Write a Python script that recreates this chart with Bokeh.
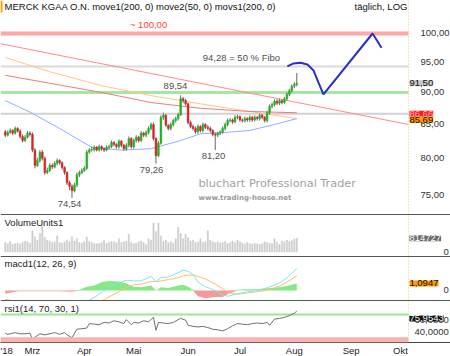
import numpy as np
from bokeh.plotting import figure
from bokeh.layouts import column
from bokeh.models import (Range1d, FixedTicker, CustomJSTickFormatter, Span, Label,
                          BoxAnnotation)
from bokeh.embed import file_html
from bokeh.resources import INLINE

# ---------------- data ----------------
opens = [83.9, 83.4, 83.8, 84.1, 83.7, 84.4, 84.0, 83.2, 82.6, 83.1,
         83.7, 83.5, 81.2, 79.0, 79.7, 80.9, 80.0, 78.0, 78.3, 79.0,
         78.8, 79.3, 79.7, 79.4, 78.7, 78.0, 76.6, 76.1, 75.5, 76.3,
         77.7, 78.0, 78.3, 78.6, 80.9, 81.2, 81.3, 81.6, 81.2, 81.7,
         81.4, 81.2, 81.6, 81.7, 82.3, 82.0, 81.7, 82.5, 81.9, 81.4,
         81.9, 82.9, 81.7, 82.6, 83.1, 82.6, 83.7, 83.4, 83.8, 84.4,
         85.0, 82.9, 80.4, 82.2, 86.1, 86.4, 84.9, 84.4, 85.0, 85.6,
         85.9, 86.5, 89.0, 88.7, 88.2, 85.3, 84.7, 84.4, 83.9, 84.7,
         84.1, 85.0, 84.6, 84.4, 84.1, 83.5, 83.4, 83.7, 83.9, 84.4,
         85.0, 85.6, 85.7, 85.4, 86.1, 86.2, 85.7, 85.6, 85.9, 85.7,
         86.1, 85.7, 86.1, 85.9, 86.4, 86.1, 85.6, 86.8, 87.8, 88.1,
         88.6, 88.3, 88.7, 88.4, 89.0, 89.7, 90.3, 91.0, 91.3]
closes = [83.4, 83.8, 84.1, 83.7, 84.4, 84.0, 83.2, 82.6, 83.1, 83.7,
          83.5, 81.2, 79.0, 79.7, 80.9, 80.0, 78.0, 78.3, 79.0, 78.8,
          79.3, 79.7, 79.4, 78.7, 78.0, 76.6, 76.1, 75.5, 76.3, 77.7,
          78.0, 78.3, 78.6, 80.9, 81.2, 81.3, 81.6, 81.2, 81.7, 81.4,
          81.2, 81.6, 81.7, 82.3, 82.0, 81.7, 82.5, 81.9, 81.4, 81.9,
          82.9, 81.7, 82.6, 83.1, 82.6, 83.7, 83.4, 83.8, 84.4, 85.0,
          82.9, 80.4, 82.2, 86.1, 86.4, 84.9, 84.4, 85.0, 85.6, 85.9,
          86.5, 89.0, 88.7, 88.2, 85.3, 84.7, 84.4, 83.9, 84.7, 84.1,
          85.0, 84.6, 84.4, 84.1, 83.5, 83.4, 83.7, 83.9, 84.4, 85.0,
          85.6, 85.7, 85.4, 86.1, 86.2, 85.7, 85.6, 85.9, 85.7, 86.1,
          85.7, 86.1, 85.9, 86.4, 86.1, 85.6, 86.8, 87.8, 88.1, 88.6,
          88.3, 88.7, 88.4, 89.0, 89.7, 90.3, 91.0, 91.3, 91.5]
highs = [84.2, 84.1, 84.4, 84.3, 84.7, 84.6, 84.3, 83.5, 83.4, 84.0,
         84.0, 83.8, 81.5, 80.1, 81.2, 81.2, 80.3, 78.7, 79.3, 79.3,
         79.6, 80.0, 79.9, 79.6, 78.9, 78.2, 76.9, 76.4, 76.6, 78.0,
         78.3, 78.6, 78.9, 81.2, 81.5, 81.7, 81.9, 81.8, 82.0, 81.9,
         81.6, 81.9, 82.0, 82.6, 82.5, 82.2, 82.8, 82.7, 82.1, 82.2,
         83.2, 83.1, 82.9, 83.4, 83.3, 84.0, 83.9, 84.1, 84.7, 85.3,
         85.3, 83.1, 82.5, 86.4, 86.8, 86.6, 85.0, 85.3, 85.9, 86.2,
         86.8, 89.54, 89.3, 89.0, 88.4, 85.6, 85.0, 84.7, 85.0, 84.9,
         85.3, 85.2, 84.9, 84.7, 84.3, 83.8, 83.9, 84.1, 84.7, 85.3,
         85.9, 86.0, 85.9, 86.4, 86.5, 86.4, 85.9, 86.2, 86.1, 86.4,
         86.3, 86.4, 86.3, 86.7, 86.6, 86.3, 87.1, 88.1, 88.4, 88.9,
         88.9, 89.0, 88.9, 89.3, 90.0, 90.6, 91.3, 91.7, 93.2]
lows = [83.1, 83.2, 83.6, 83.4, 83.5, 83.8, 82.9, 82.3, 82.4, 82.9,
        83.2, 80.9, 78.6, 78.8, 79.4, 79.7, 77.7, 77.8, 78.1, 78.5,
        78.6, 79.0, 79.1, 78.4, 77.7, 76.3, 75.6, 74.54, 75.3, 76.0,
        77.4, 77.8, 78.1, 78.4, 80.7, 81.0, 81.0, 81.0, 81.0, 81.1,
        80.9, 81.0, 81.3, 81.5, 81.8, 81.4, 81.4, 81.6, 81.1, 81.1,
        81.6, 81.4, 81.4, 82.3, 82.3, 82.4, 83.1, 83.1, 83.5, 84.1,
        82.6, 79.26, 80.2, 82.0, 85.7, 84.6, 84.1, 84.1, 84.7, 85.3,
        85.6, 86.3, 88.3, 87.9, 85.0, 84.4, 84.1, 83.6, 83.6, 83.8,
        83.8, 84.3, 84.1, 83.8, 83.2, 81.2, 83.1, 83.4, 83.6, 84.1,
        84.7, 85.3, 85.1, 85.2, 85.8, 85.4, 85.3, 85.3, 85.4, 85.4,
        85.4, 85.5, 85.6, 85.6, 85.8, 85.3, 85.3, 86.5, 87.5, 87.8,
        88.0, 88.0, 88.1, 88.2, 88.7, 89.4, 90.0, 90.7, 91.0]
volume_k = [560, 480, 620, 450, 500, 530, 470, 580, 650, 600,
            520, 1250, 900, 700, 1100, 1550, 850, 700, 640, 560,
            600, 950, 560, 520, 600, 700, 620, 900, 650, 800,
            560, 520, 600, 880, 620, 560, 500, 480, 520, 560,
            700, 500, 560, 620, 600, 540, 780, 560, 600, 640,
            1050, 560, 480, 520, 600, 650, 560, 420, 780, 700,
            1700, 1200, 1700, 950, 620, 700, 560, 600, 520, 780,
            1450, 1100, 800, 1050, 850, 640, 700, 560, 600, 780,
            560, 620, 1250, 700, 600, 540, 600, 520, 560, 620,
            500, 560, 640, 560, 700, 600, 520, 480, 560, 500,
            460, 520, 480, 440, 500, 600, 560, 520, 500, 780,
            560, 440, 640, 600, 700, 620, 680, 760, 814.727]

ma_idx = [0, 18, 39, 59, 79, 99, 118]
ma200_orange = [95.8, 93.4, 91.1, 89.5, 88.2, 87.0, 85.9]
ma200_red = [92.8, 91.5, 90.0, 88.4, 87.5, 87.0, 86.8]
ma50_idx = [0, 10, 22, 35, 47, 59, 71, 79, 89, 99, 109, 118]
ma50_blue = [88.7, 86.9, 84.4, 81.6, 81.2, 81.4, 82.6, 83.6, 83.8, 84.1, 85.0, 85.9]
trend_idx = [-2.0, 163.2]
trend_price = [98.2, 85.0]
proj_idx = [114.2, 116.7, 119.5, 122.3, 124.8, 126.8, 128.8, 148.7, 152.3]
proj_price = [94.3, 94.8, 94.9, 94.6, 93.6, 91.6, 89.7, 100.0, 97.5]

target_level = 100.0
fibo_level = 94.28
support_level = 90.0
gray_level = 86.66
red_box_value = 86.66
orange_box_value = 85.69
last_close = 91.50

macd_idx = [0, 5, 11, 16, 22, 27, 30, 33, 36, 39, 42, 46, 49, 52, 55, 59, 61, 63, 66,
            70, 72, 74, 76, 78, 81, 85, 88, 90, 94, 98, 102, 105, 108, 111, 114, 116, 118]
macd_line = [-1.9, -1.8, -2.2, -2.6, -2.7, -2.9, -2.5, -1.7, -1.1, -0.3, 0.5, 1.2, 1.6,
             1.5, 1.5, 2.2, 1.4, 2.0, 2.1, 2.8, 3.2, 3.0, 2.5, 1.3, 0.6, 0.0, -0.7, -0.9,
             -0.5, -0.2, 0.0, 0.3, 0.7, 1.2, 2.0, 2.7, 3.3947]
macd_signal = [-1.4, -1.7, -2.1, -2.5, -2.6, -2.7, -2.6, -2.3, -1.9, -1.6, -1.0, -0.2, 0.5,
               0.9, 1.0, 1.4, 1.4, 1.5, 1.7, 2.0, 2.3, 2.4, 2.4, 2.2, 1.8, 1.0, 0.3, -0.3,
               -0.6, -0.4, -0.2, 0.0, 0.3, 0.7, 1.3, 1.8, 2.3]

rsi_idx = [0, 1, 2, 4, 6, 8, 10, 11, 12, 14, 16, 17, 19, 20, 22, 24, 25, 27, 29, 31,
           33, 34, 36, 38, 40, 42, 44, 46, 48, 49, 51, 52, 54, 56, 58, 60, 61, 62, 64, 66,
           68, 70, 71, 73, 74, 76, 78, 80, 82, 84, 86, 88, 90, 92, 94, 96, 98, 100, 102, 104,
           106, 107, 109, 111, 113, 115, 117, 118]
rsi_vals = [37, 35, 36, 38, 36, 36, 37, 26, 30, 36, 34, 35, 37, 38, 35, 38, 34, 29, 44, 45,
            46, 54, 53, 52, 56, 55, 59, 57, 54, 61, 52, 56, 55, 59, 57, 65, 42, 56, 55, 54,
            56, 61, 63, 60, 51, 49, 48, 49, 47, 44, 43, 41, 45, 50, 54, 53, 52, 54, 55, 54,
            56, 51, 62, 63, 65, 68, 72, 75.9543]

month_ticks = [0, 11, 32, 52, 74, 95, 117, 140, 160]
month_labels = ["'18", "Mrz", "Apr", "Mai", "Jun", "Jul", "Aug", "Sep", "Okt"]
price_ticks = [75, 80, 85, 90, 95, 100]

# ---------------- layout helpers ----------------
FONT = "Liberation Sans"
FS = "9.5px"
X0, X1 = -1.94, 180.24     # whole 450 px window width
EDGE = 163.2               # right edge of the chart area (x = 408 px)
xr = Range1d(X0, X1)
idx = np.arange(len(closes))


def make_fig(frame_h, yr, standoff, ytype="linear", xloc=None):
    p = figure(frame_width=450, frame_height=frame_h, x_range=xr, y_range=yr,
               y_axis_type=ytype, x_axis_location=xloc, y_axis_location="right",
               toolbar_location=None, output_backend="svg", title=None,
               min_border=0, background_fill_color="white", border_fill_color="white")
    p.grid.visible = False
    p.outline_line_color = None
    ax = p.yaxis[0]
    ax.major_tick_out = 0
    ax.major_tick_in = 0
    ax.minor_tick_out = 0
    ax.minor_tick_in = 0
    ax.axis_line_color = None
    ax.major_label_standoff = standoff
    ax.major_label_text_font = FONT
    ax.major_label_text_font_size = FS
    ax.major_label_text_color = "#333333"
    p.add_layout(Span(location=EDGE, dimension="height", line_color="#e8c070",
                      line_width=1, line_dash="1 2"))
    return p


def hline(p, level, color, width):
    p.line([X0, EDGE], [level, level], line_color=color, line_width=width)


def box_label(p, y, text, bg, fg="#111111"):
    p.add_layout(Label(x=EDGE, y=y, x_offset=1, text=text, text_align="left",
                       text_baseline="middle", text_font=FONT, text_font_size=FS,
                       text_color=fg, background_fill_color=bg, level="overlay"))


def txt(p, x, y, text, color="#505050", align="center", size=FS, font=FONT, style="normal"):
    p.add_layout(Label(x=x, y=y, text=text, text_align=align, text_baseline="middle",
                       text_font=font, text_font_size=size, text_color=color,
                       text_font_style=style))


# ---------------- main price panel ----------------
p1 = make_fig(215, Range1d(72.25, 106.07), -30, ytype="log")
p1.yaxis[0].ticker = FixedTicker(ticks=price_ticks, minor_ticks=[])
p1.yaxis[0].formatter = CustomJSTickFormatter(code="return tick.toFixed(2).replace('.', ',')")

hline(p1, target_level, "#ffa6a6", 4)
hline(p1, fibo_level, "#dadada", 2)
hline(p1, support_level, "#a6e6a0", 3)
hline(p1, gray_level, "#d2d2d2", 2)

p1.line(trend_idx, trend_price, line_color="#ff8a8a", line_width=1)
p1.line(ma_idx, ma200_orange, line_color="#ffc68a", line_width=1)
p1.line(ma_idx, ma200_red, line_color="#ec7b7b", line_width=1)
p1.line(ma50_idx, ma50_blue, line_color="#8fb0ff", line_width=1)

o = np.array(opens)
c = np.array(closes)
cols = ["#22b022" if cc >= oo else "#d42424" for oo, cc in zip(o, c)]
p1.segment(x0=idx, y0=lows, x1=idx, y1=highs, line_color="#6a6a6a", line_width=1)
p1.vbar(x=idx, width=0.72, top=np.maximum(o, c), bottom=np.minimum(o, c),
        fill_color=cols, line_color=cols, line_width=0.5)

p1.line(proj_idx, proj_price, line_color="#2a30c0", line_width=2)

txt(p1, -0.3, 104.94, "MERCK KGAA O.N. move1(200, 0) move2(50, 0) movs1(200, 0)",
    color="#111111", align="left")
txt(p1, 162.8, 104.94, "täglich, LOG", color="#111111", align="right")
p1.add_layout(BoxAnnotation(left=X0, right=X0 + 0.8, bottom=103.8, top=106.07,
                            fill_color="#ff9900", fill_alpha=1.0, line_color=None))
txt(p1, 58.0, 101.6, "~ 100,00", color="#ff3c3c")
txt(p1, 95.6, 95.8, "94,28 = 50 % Fibo")
txt(p1, 68.9, 91.1, "89,54")
txt(p1, 26.0, 73.8, "74,54")
txt(p1, 59.2, 78.3, "79,26")
txt(p1, 84.3, 80.3, "81,20")
txt(p1, 78.2, 76.5, "bluchart Professional Trader", color="#a2a2a2", align="left",
    size="11.3px", font="DejaVu Sans")
txt(p1, 78.2, 74.6, "www.trading-house.net", color="#9a9a9a", align="left",
    size="7px", font="DejaVu Sans", style="bold")

box_label(p1, last_close, "91,50", "#c8c8c8")
box_label(p1, red_box_value, "86,66", "#ff1a1a", fg="#ffb0b0")
box_label(p1, orange_box_value, "85,69", "#ff9a00")
p1.add_layout(Span(location=72.36, dimension="width", line_color="#555555", line_width=1.5))

# ---------------- volume panel ----------------
vol = np.array(volume_k) * 1000.0
p2 = make_fig(42, Range1d(-323500, 2147000), -7)
p2.yaxis[0].ticker = FixedTicker(ticks=[0], minor_ticks=[])
p2.yaxis[0].formatter = CustomJSTickFormatter(code="return tick.toFixed(0)")
p2.vbar(x=idx, width=0.5, top=vol, bottom=0, fill_color="#cccccc", line_color="#cccccc",
        line_width=0.5)
txt(p2, -0.3, 1760000, "VolumeUnits1", color="#222222", align="left")
box_label(p2, vol[-1], "814727", "#6a6a6a", fg="white")
p2.add_layout(Span(location=-277000, dimension="width", line_color="#555555", line_width=1.5))

# ---------------- MACD panel ----------------
m = np.array(macd_line)
s = np.array(macd_signal)
hist = m - s
p3 = make_fig(44, Range1d(-1.719, 5.156), -7)
p3.yaxis[0].ticker = FixedTicker(ticks=[0], minor_ticks=[])
p3.yaxis[0].formatter = CustomJSTickFormatter(
    code="return tick == 0 ? '0' : tick.toFixed(4).replace('.', ',')")
p3.varea(x=macd_idx, y1=np.zeros(len(hist)), y2=np.maximum(hist, 0), fill_color="#86e886")
p3.varea(x=macd_idx, y1=np.zeros(len(hist)), y2=np.minimum(hist, 0), fill_color="#f59a9a")
p3.line(macd_idx, macd_signal, line_color="#ffbb77", line_width=1)
p3.line(macd_idx, macd_line, line_color="#7ae6f0", line_width=1)
txt(p3, -0.3, 4.22, "macd1(12, 26, 9)", color="#222222", align="left")
box_label(p3, hist[-1], "1,0947", "#ff9a00")
p3.add_layout(Span(location=-1.594, dimension="width", line_color="#555555", line_width=1.5))

# ---------------- RSI panel ----------------
p4 = make_fig(41, Range1d(20.59, 92.94), -36, xloc="below")
p4.yaxis[0].ticker = FixedTicker(ticks=[40, 60], minor_ticks=[])
p4.yaxis[0].formatter = CustomJSTickFormatter(code="return tick.toFixed(4).replace('.', ',')")
p4.add_layout(BoxAnnotation(top=30, right=EDGE, fill_color="#f8b2b2", fill_alpha=1.0,
                            line_color=None))
hline(p4, 70, "#96ea8c", 2)
p4.line(rsi_idx, rsi_vals, line_color="#707070", line_width=1)
txt(p4, -0.3, 80.6, "rsi1(14, 70, 30, 1)", color="#222222", align="left")
box_label(p4, 63.0, "75,9543", "#111111", fg="white")
xa = p4.xaxis[0]
xa.ticker = FixedTicker(ticks=month_ticks, minor_ticks=[])
xa.major_label_overrides = {t: l for t, l in zip(month_ticks, month_labels)}
xa.major_tick_out = 0
xa.major_tick_in = 0
xa.minor_tick_out = 0
xa.minor_tick_in = 0
xa.major_label_standoff = 2
xa.axis_line_color = "#444444"
xa.major_label_text_font = FONT
xa.major_label_text_font_size = FS
xa.major_label_text_color = "#222222"

layout = column(p1, p2, p3, p4, spacing=0)
html = file_html(layout, INLINE, title="MERCK KGAA")
html = html.replace("<body>", '<body style="margin:0;padding:0;overflow:hidden;">', 1)
open("out.html", "w").write(html)
